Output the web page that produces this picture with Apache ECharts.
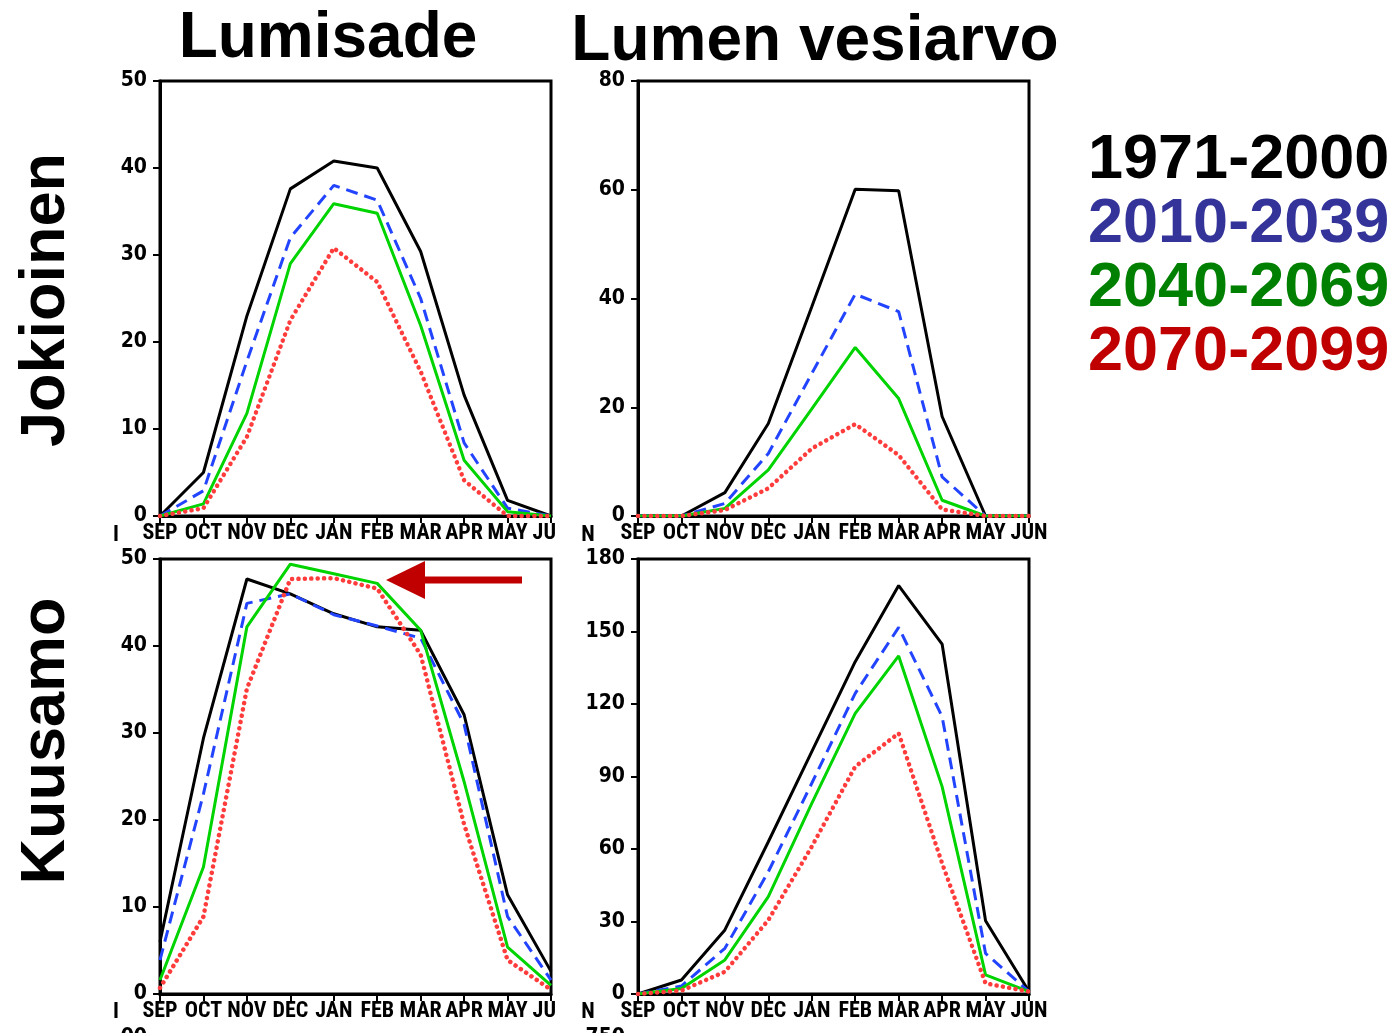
<!DOCTYPE html>
<html>
<head>
<meta charset="utf-8">
<script src="https://cdn.jsdelivr.net/npm/echarts@6/dist/echarts.min.js"></script>
<style>
html,body{margin:0;padding:0;background:#fff;}
#chart{width:1396px;height:1033px;}
</style>
</head>
<body>
<div id="chart"></div>
<script>
// ---- data ----
const months = ['SEP','OCT','NOV','DEC','JAN','FEB','MAR','APR','MAY','JUN'];
const periods = ['1971-2000','2010-2039','2040-2069','2070-2099'];
const columnTitles = ['Lumisade','Lumen vesiarvo'];
const rowTitles = ['Jokioinen','Kuusamo'];

// Jokioinen, Lumisade (snowfall)
const jokSnow1971 = [0, 5.0, 23.0, 37.6, 40.8, 40.0, 30.4, 13.9, 1.8, 0];
const jokSnow2010 = [0, 2.9, 17.8, 32.0, 38.0, 36.3, 25.0, 8.4, 0.9, 0];
const jokSnow2040 = [0, 1.4, 11.8, 29.0, 35.9, 34.8, 21.9, 6.4, 0.5, 0];
const jokSnow2070 = [0, 0.9, 9.1, 22.5, 30.8, 26.9, 16.6, 4.1, 0, 0];

// Jokioinen, Lumen vesiarvo (snow water equivalent)
const jokSwe1971 = [0, 0, 4.3, 17.0, 38.5, 60.1, 59.8, 18.3, 0, 0];
const jokSwe2010 = [0, 0, 2.3, 11.5, 26.2, 40.8, 37.6, 7.2, 0, 0];
const jokSwe2040 = [0, 0, 1.4, 8.5, 19.7, 31.0, 21.6, 2.9, 0, 0];
const jokSwe2070 = [0, 0, 1.1, 5.1, 12.4, 16.9, 11.2, 1.2, 0, 0];

// Kuusamo, Lumisade
const kuuSnow1971 = [6.0, 29.4, 47.7, 46.0, 43.7, 42.2, 41.8, 32.1, 11.4, 2.6];
const kuuSnow2010 = [3.9, 23.0, 44.9, 46.0, 43.6, 42.3, 40.9, 31.0, 8.9, 1.6];
const kuuSnow2040 = [1.6, 14.6, 42.2, 49.4, 48.3, 47.2, 41.8, 24.4, 5.4, 1.0];
const kuuSnow2070 = [0.7, 8.9, 35.1, 47.7, 47.8, 46.6, 39.0, 19.5, 3.9, 0.5];

// Kuusamo, Lumen vesiarvo
const kuuSwe1971 = [0, 5.8, 26.5, 63.0, 100.3, 137.5, 169.0, 144.8, 30.3, 1.0];
const kuuSwe2010 = [0, 3.3, 18.9, 50.6, 87.2, 124.4, 151.7, 114.8, 16.8, 1.0];
const kuuSwe2040 = [0, 2.3, 14.1, 40.3, 78.9, 116.1, 139.9, 85.8, 7.9, 1.0];
const kuuSwe2070 = [0, 1.4, 9.2, 30.6, 61.0, 94.1, 107.9, 54.1, 4.4, 1.0];

const panelData = [
  [jokSnow1971, jokSnow2010, jokSnow2040, jokSnow2070],
  [jokSwe1971, jokSwe2010, jokSwe2040, jokSwe2070],
  [kuuSnow1971, kuuSnow2010, kuuSnow2040, kuuSnow2070],
  [kuuSwe1971, kuuSwe2010, kuuSwe2040, kuuSwe2070]
];
const yMax = [50, 80, 50, 180];
const yStep = [10, 20, 10, 30];

// ---- styles ----
const lineStyles = [
  {color:'#000000', width:3, type:'solid'},
  {color:'#2244ff', width:3, type:[12,7]},
  {color:'#00d400', width:3, type:'solid'},
  {color:'#ff3c3c', width:4.5, type:[0.1,6.3], cap:'round'}
];
const legendColors = ['#000000','#333399','#008000','#c00000'];
const gridPos = [
  {left:160, top:81},
  {left:638, top:81},
  {left:160, top:559},
  {left:638, top:559}
];
const xFont = "'Roboto Condensed', 'DejaVu Sans Condensed', sans-serif";
const yFont = "'DejaVu Sans Condensed', 'DejaVu Sans', sans-serif";
const bigFont = "'Liberation Sans', Arial, sans-serif";

const grids = [], xAxes = [], yAxes = [], series = [];
gridPos.forEach((p, i) => {
  grids.push({left:p.left, top:p.top, width:391, height:435, show:true,
    borderColor:'#000', borderWidth:3, backgroundColor:'transparent'});
  xAxes.push({type:'category', gridIndex:i, data:months, boundaryGap:false,
    axisLine:{lineStyle:{color:'#000', width:3}},
    axisTick:{inside:false, length:7, lineStyle:{color:'#000', width:2}, alignWithLabel:true},
    axisLabel:{color:'#000', fontSize:22, fontWeight:'bold', fontFamily:xFont, margin:6, interval:0},
    splitLine:{show:false}});
  yAxes.push({type:'value', gridIndex:i, min:0, max:yMax[i], interval:yStep[i],
    axisLine:{show:true, lineStyle:{color:'#000', width:3}},
    axisTick:{show:true, inside:false, length:7, lineStyle:{color:'#000', width:2}},
    axisLabel:{color:'#000', fontSize:21, fontWeight:'bold', fontFamily:yFont, margin:13},
    splitLine:{show:false}});
  panelData[i].forEach((arr, k) => {
    series.push({type:'line', name:periods[k], xAxisIndex:i, yAxisIndex:i, data:arr,
      symbol:'none', lineStyle:lineStyles[k], z:2+k, silent:true});
  });
});

const fragFont = 'bold 22px ' + xFont;
const graphics = [
  {type:'text', x:328, y:39, style:{text:columnTitles[0], font:'bold 64px ' + bigFont, fill:'#000', textAlign:'center', textVerticalAlign:'middle'}},
  {type:'text', x:815, y:42, style:{text:columnTitles[1], font:'bold 64px ' + bigFont, fill:'#000', textAlign:'center', textVerticalAlign:'middle'}},
  {type:'text', x:47, y:300, rotation:Math.PI/2, style:{text:rowTitles[0], font:'bold 63px ' + bigFont, fill:'#000', textAlign:'center', textVerticalAlign:'middle'}},
  {type:'text', x:47, y:741, rotation:Math.PI/2, style:{text:rowTitles[1], font:'bold 63px ' + bigFont, fill:'#000', textAlign:'center', textVerticalAlign:'middle'}},
  // clip of the last month label in the left column
  {type:'rect', shape:{x:557, y:519, width:22, height:34}, style:{fill:'#fff'}, z:100},
  {type:'rect', shape:{x:557, y:997, width:22, height:34}, style:{fill:'#fff'}, z:100},
  // clipped label fragments
  {type:'text', x:116, y:535, style:{text:'I', font:fragFont, fill:'#000', textAlign:'center', textVerticalAlign:'middle'}, z:101},
  {type:'text', x:588, y:535, style:{text:'N', font:fragFont, fill:'#000', textAlign:'center', textVerticalAlign:'middle'}, z:101},
  {type:'text', x:116, y:1012, style:{text:'I', font:fragFont, fill:'#000', textAlign:'center', textVerticalAlign:'middle'}, z:101},
  {type:'text', x:588, y:1012, style:{text:'N', font:fragFont, fill:'#000', textAlign:'center', textVerticalAlign:'middle'}, z:101},
  {type:'text', x:147, y:1038, style:{text:'00', font:'bold 21px ' + yFont, fill:'#000', textAlign:'right', textVerticalAlign:'middle'}, z:101},
  {type:'text', x:625, y:1038, style:{text:'750', font:'bold 21px ' + yFont, fill:'#000', textAlign:'right', textVerticalAlign:'middle'}, z:101},
  // arrow
  {type:'polygon', shape:{points:[[386,580],[425,561],[425,599]]}, style:{fill:'#c00000'}, z:50},
  {type:'rect', shape:{x:424, y:576.5, width:98, height:7}, style:{fill:'#c00000'}, z:50}
];

const chart = echarts.init(document.getElementById('chart'), null, {renderer:'canvas'});
chart.setOption({
  animation:false,
  backgroundColor:'#ffffff',
  grid:grids, xAxis:xAxes, yAxis:yAxes, series:series,
  legend:{orient:'vertical', left:1078, top:124, icon:'none', itemWidth:0, itemHeight:10,
    itemGap:0, selectedMode:false,
    textStyle:{fontSize:63, fontWeight:'bold', fontFamily:bigFont, lineHeight:64},
    data:periods.map((p,k)=>({name:p, textStyle:{color:legendColors[k]}}))},
  graphic:graphics
});
</script>
</body>
</html>
